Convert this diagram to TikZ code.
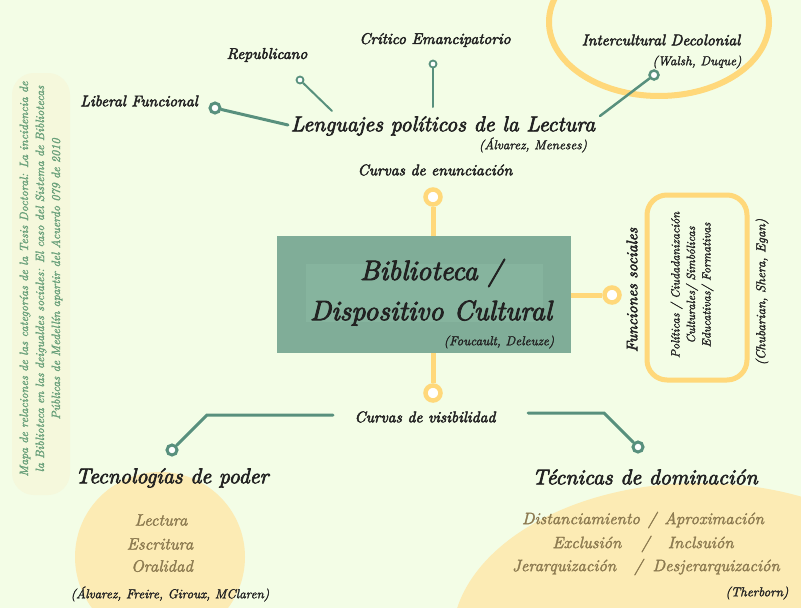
\documentclass[tikz,border=0pt]{standalone}
\usepackage{fontspec}
\newfontfamily\scrb{lmroman10-italic.otf}[FakeBold=3]
\newfontfamily\scr{lmroman10-italic.otf}[FakeBold=1.8]
\definecolor{bgc}{RGB}{243,253,230}
\definecolor{tealc}{RGB}{88,144,125}
\definecolor{yel}{RGB}{255,216,122}
\definecolor{boxc}{RGB}{128,173,152}
\definecolor{boxin}{RGB}{134,180,158}
\definecolor{panel}{RGB}{245,248,220}
\definecolor{paneltxt}{RGB}{105,160,122}
\definecolor{dark}{RGB}{34,34,34}
\definecolor{brownc}{RGB}{140,122,80}
\definecolor{blobc}{RGB}{252,235,180}
\tikzset{
  tline/.style={draw=tealc, line width=3pt, line cap=round},
  tthin/.style={draw=tealc, line width=2pt, line cap=round},
  tdot/.style={circle, draw=tealc, fill=white, line width=3pt, inner sep=0pt, minimum size=10pt},
  tsdot/.style={circle, draw=tealc, fill=white, line width=1.8pt, inner sep=0pt, minimum size=7pt},
  yline/.style={draw=yel, line width=5pt},
  ydot/.style={circle, draw=yel, fill=white, line width=4.5pt, inner sep=0pt, minimum size=15pt},
  txt/.style={font=\scrb\fontsize{15.5}{18}\selectfont, text=dark, inner sep=0pt},
  big/.style={font=\scrb\fontsize{28}{30}\selectfont, text=dark, inner sep=0pt},
  head/.style={font=\scrb\fontsize{21.5}{24}\selectfont, text=dark, inner sep=0pt},
  small/.style={font=\scr\fontsize{13}{15}\selectfont, text=dark, inner sep=0pt},
  brown/.style={font=\scr\fontsize{16.5}{19}\selectfont, text=brownc, inner sep=0pt},
}
\begin{document}
\begin{tikzpicture}[x=1pt,y=-1pt]
\fill[bgc] (0,0) rectangle (801,608);
\useasboundingbox (0,0) rectangle (801,608);
% background blobs
\draw[yel, line width=6pt] (659,22) ellipse [x radius=110, y radius=74];
\fill[blobc] (160,557) circle [radius=85];
\fill[blobc] (700,640) ellipse [x radius=248, y radius=157];
% left panel
\fill[panel, rounded corners=22pt] (12,73) rectangle (70,495);
\node[rotate=90, align=center, text=paneltxt, font=\scr\fontsize{12}{16}\selectfont, inner sep=0pt] (panel) at (41,279)
 {Mapa de relaciones de las categorías de la Tesis Doctoral: La incidencia de\\
  la Biblioteca en las deigualdes sociales: El caso del Sistema de Bibliotecas\\
  Públicas de Medellín apartir del Acuerdo 079 de 2010};
% central box
\node[fill=boxc, minimum width=294pt, minimum height=117pt, inner sep=0pt] (box) at (424,294.5) {};
\fill[boxin] (306,264) rectangle (543,322);
\node[big] (bib) at (431,273) {Biblioteca /};
\node[big] (disp) at (431,313) {Dispositivo Cultural};
\node[small] (fou) at (499,342) {(Foucault, Deleuze)};
% yellow connectors
\node[ydot] (ytop) at (433,197) {};
\node[ydot] (ybot) at (433,393) {};
\node[ydot] (yright) at (612,295) {};
\coordinate (btop) at (433,236);
\coordinate (bbot) at (433,353);
\coordinate (bright) at (571,295);
\draw[yline] (btop) -- (ytop);
\draw[yline] (bbot) -- (ybot);
\draw[yline] (bright) -- (yright);
% top texts
\node[txt] (enun) at (435,170) {Curvas de enunciación};
\node[head] (len) at (443,126) {Lenguajes políticos de la Lectura};
\node[small] (alm) at (533,145) {(Álvarez, Meneses)};
\node[txt] (lib) at (139,101) {Liberal Funcional};
\node[txt] (rep) at (267,55) {Republicano};
\node[txt] (cri) at (435,40) {Crítico Emancipatorio};
\node[txt] (int) at (661,40) {Intercultural Decolonial};
\node[small] (wal) at (697,62) {(Walsh, Duque)};
\node[tdot] (dlib) at (215,108) {};
\node[tsdot] (drep) at (300,80) {};
\node[tsdot] (dcri) at (433,64) {};
\node[tdot, minimum size=9pt, line width=2.5pt] (dint) at (654,75) {};
\coordinate (clib) at (288,125);
\coordinate (crep) at (332,111);
\coordinate (ccri) at (433,107);
\coordinate (cint) at (600,116);
\draw[tline] (clib) -- (dlib);
\draw[tthin] (crep) -- (drep);
\draw[tthin] (ccri) -- (dcri);
\draw[tthin, line width=2.5pt] (cint) -- (dint);
% right side
\node[txt, rotate=90] (fun) at (632,290) {Funciones sociales};
\node[draw=yel, line width=5pt, rounded corners=20pt, minimum width=100pt, minimum height=185pt, inner sep=0pt] (fbox) at (697,287.5) {};
\node[rotate=90, align=center, font=\scr\fontsize{12}{15.5}\selectfont, text=dark, inner sep=0pt] (funtxt) at (692,285)
 {Políticas / Ciudadanización\\ Culturales/ Simbólicas\\ Educativas/ Formativas};
\node[small, rotate=90] (chu) at (762,292) {(Chubarian, Shera, Egan)};
% bottom
\node[txt] (vis) at (425,417) {Curvas de visibilidad};
\node[tdot] (dtec) at (172,450) {};
\node[tdot] (dtdo) at (638,447) {};
\coordinate (cvl) at (333,415);
\coordinate (kvl) at (207,415);
\coordinate (cvr) at (528,413);
\coordinate (kvr) at (604,413);
\draw[tline] (cvl) -- (kvl) -- (dtec);
\draw[tline] (cvr) -- (kvr) -- (dtdo);
\node[head] (tec) at (172,478) {Tecnologías de poder};
\node[brown] (lec) at (161,520) {Lectura};
\node[brown] (esc) at (160,544) {Escritura};
\node[brown] (ora) at (162,566) {Oralidad};
\node[small] (afgm) at (170,594) {(Álvarez, Freire, Giroux, MClaren)};
\node[head] (tdom) at (645,477) {Técnicas de dominación};
\node[brown] (d1) at (643,520) {Distanciamiento\hspace{8pt}/\hspace{8pt}Aproximación};
\node[brown] (d2) at (643,544) {Exclusión\hspace{20pt}/\hspace{18pt}Inclsuión};
\node[brown] (d3) at (646,567) {Jerarquización\hspace{18pt}/\hspace{10pt}Desjerarquización};
\node[small] (ther) at (757,593) {(Therborn)};
\end{tikzpicture}
\end{document}
